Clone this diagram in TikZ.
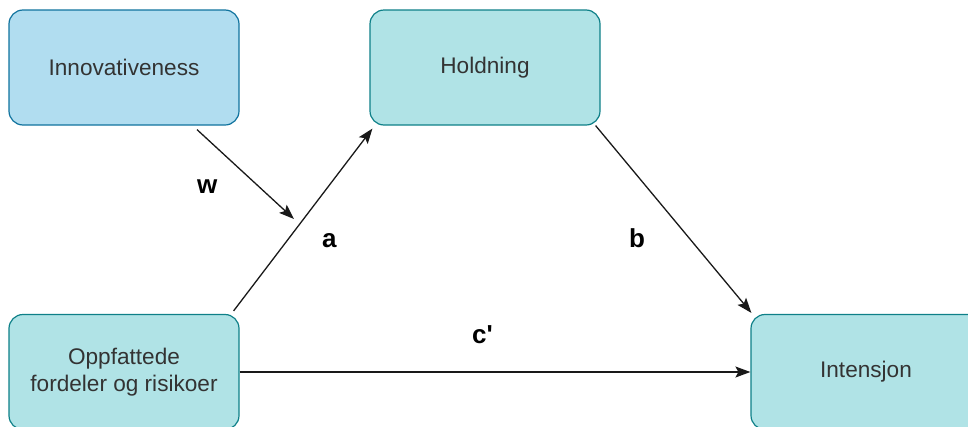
\documentclass[tikz,border=0pt]{standalone}
\usepackage{fontspec}
\setmainfont{Liberation Sans}
\usepackage{xcolor}
\usepackage{tikz}
\usetikzlibrary{arrows.meta, positioning, calc}
\definecolor{ModBlueFill}{HTML}{B1DDF0}
\definecolor{ModBlueLine}{HTML}{10739E}
\definecolor{VarTealFill}{HTML}{B0E3E6}
\definecolor{VarTealLine}{HTML}{0E8088}
\definecolor{BoxText}{HTML}{333333}

\begin{document}
\begin{tikzpicture}[x=1pt, y=-1pt,
    varbox/.style={rounded corners=14pt, fill=VarTealFill, draw=VarTealLine, line width=1.2pt,
        minimum width=230pt, minimum height=115pt, align=center, inner sep=0pt,
        text=BoxText, font=\fontsize{22.6}{27.6}\selectfont},
    modbox/.style={varbox, fill=ModBlueFill, draw=ModBlueLine},
    path/.style={line width=1.3pt, draw=black!90, -{Stealth[length=15pt, width=11pt, inset=3pt]}},
    coef/.style={anchor=base west, inner sep=0pt, font=\fontsize{26}{30}\selectfont\bfseries}]
  \useasboundingbox (0,0) rectangle (968,426);

  % the four boxes
  \node[modbox] (innov) at (124,67.5) {Innovativeness};
  \node[varbox] (hold) at (485,67.5) {Holdning};
  \node[varbox] (oppf) at (124,372) {Oppfattede\\fordeler og risikoer};
  \node[varbox] (inten) at (866,372) {Intensjon};

  % paths
  \coordinate (wend) at (294,219);
  \draw[path] ([xshift=73pt,yshift=-4pt]innov.south) -- (wend);
  \draw[path] ([xshift=-6pt,yshift=3pt]oppf.north east) -- ([xshift=3pt,yshift=-3pt]hold.south west);
  \draw[path] ([xshift=-5pt,yshift=0pt]hold.south east) -- ([xshift=1pt,yshift=1pt]inten.north west);
  \draw[path] (oppf.east) -- (inten.west);

  % coefficients
  \node[coef] (lblw) at (197,193) {w};
  \node[coef] (lbla) at (322,247) {a};
  \node[coef] (lblb) at (629,247) {b};
  \node[coef] (lblc) at (472,343) {c\textquotesingle};
\end{tikzpicture}
\end{document}
